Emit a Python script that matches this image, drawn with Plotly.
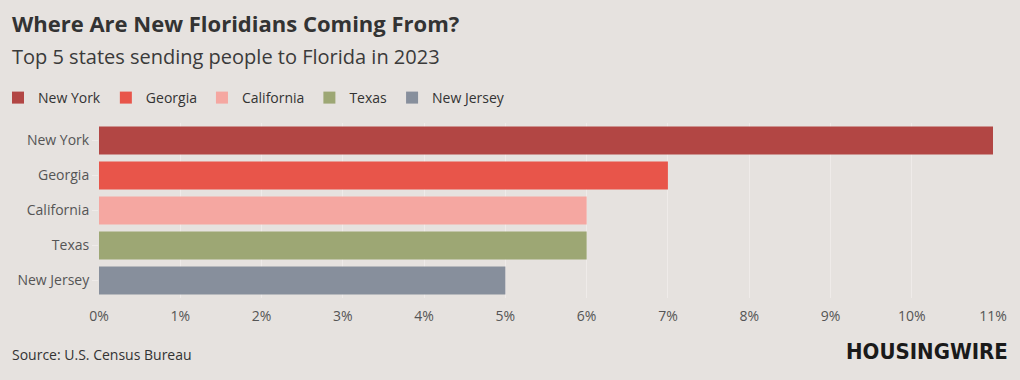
import plotly.graph_objects as go

states = ["New York", "Georgia", "California", "Texas", "New Jersey"]
shares = [11, 7, 6, 6, 5]
colors = ["#b24644", "#e8554a", "#f5a7a1", "#9da774", "#878f9c"]
x_ticks = list(range(0, 12))
x_tick_labels = [f"{v}%" for v in x_ticks]

FONT = "Open Sans"
BG = "#e6e2df"

W, H = 1020, 380
ML, MR, MT, MB = 99, 27, 123, 82


def px(xp):
    return (xp - ML) / (W - ML - MR)


def py(yp):
    return (H - MB - yp) / (H - MT - MB)


fig = go.Figure()
for s, v, c in zip(states, shares, colors):
    fig.add_trace(go.Bar(
        y=[s], x=[v], name=s, orientation="h",
        marker=dict(color=c, line=dict(width=0)),
        hovertemplate="%{y}: %{x}%<extra></extra>",
    ))

fig.update_layout(
    width=W, height=H,
    paper_bgcolor=BG, plot_bgcolor=BG,
    margin=dict(l=ML, r=MR, t=MT, b=MB, autoexpand=False),
    barmode="overlay", bargap=0.2,
    font=dict(family=FONT, color="#444444", size=14),
    showlegend=True,
    legend=dict(
        orientation="h", x=px(-2), y=py(82), xref="paper", yref="paper",
        xanchor="left", yanchor="top",
        font=dict(size=14, color="#333333"),
        itemwidth=30, traceorder="normal",
        bgcolor="rgba(0,0,0,0)",
    ),
    xaxis=dict(
        range=[0, 11.0], tickvals=x_ticks, ticktext=x_tick_labels,
        showgrid=True, gridcolor="#efebe9", gridwidth=1,
        zeroline=False, showline=False,
        tickfont=dict(size=14, color="#555555"),
        ticks="outside", ticklen=5, tickcolor=BG,
        fixedrange=True, automargin=False,
    ),
    yaxis=dict(
        categoryorder="array", categoryarray=states[::-1],
        showgrid=False, zeroline=False, showline=False,
        ticks="outside", ticklen=6, tickcolor="#efebe9",
        tickfont=dict(size=14, color="#555555"),
        fixedrange=True, automargin=False,
    ),
)

fig.add_annotation(
    text="<b>Where Are New Floridians Coming From?</b>",
    x=px(10), y=py(23), xref="paper", yref="paper", xanchor="left", yanchor="middle",
    showarrow=False, font=dict(size=22, color="#333333", family=FONT),
)
fig.add_annotation(
    text="Top 5 states sending people to Florida in 2023",
    x=px(10), y=py(56), xref="paper", yref="paper", xanchor="left", yanchor="middle",
    showarrow=False, font=dict(size=20, color="#3a3a3a", family=FONT),
)
fig.add_annotation(
    text="Source: U.S. Census Bureau",
    x=px(10), y=py(354), xref="paper", yref="paper", xanchor="left", yanchor="middle",
    showarrow=False, font=dict(size=14, color="#333333", family=FONT),
)
fig.add_annotation(
    text="<b>HOUSINGWIRE</b>",
    x=px(1010), y=py(351), xref="paper", yref="paper", xanchor="right", yanchor="middle",
    showarrow=False, font=dict(size=22, color="#1a1a1a", family="DejaVu Sans Condensed"),
)

fig.write_html(
    "out.html",
    config={"displayModeBar": False},
    post_script="document.body.style.margin='0';document.body.style.overflow='hidden';",
)
